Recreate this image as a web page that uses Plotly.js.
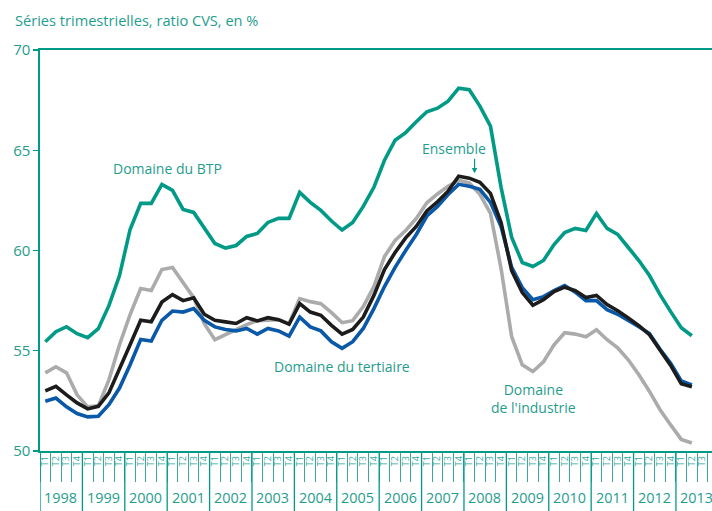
<!DOCTYPE html>
<html>
<head>
<meta charset="utf-8">
<script src="https://cdn.plot.ly/plotly-3.0.1.min.js"></script>
<style>html,body{margin:0;padding:0;background:#fff;}#chart{width:712px;height:511px;}</style>
</head>
<body>
<div id="chart"></div>
<script>
const years = [1998,1999,2000,2001,2002,2003,2004,2005,2006,2007,2008,2009,2010,2011,2012,2013];
const quarterLabels = ['T1','T2','T3','T4'];

const btp = [55.45,55.95,56.2,55.85,55.65,56.1,57.25,58.75,61.05,62.35,
  62.35,63.3,63.0,62.05,61.9,61.15,60.35,60.12,60.25,60.7,
  60.85,61.4,61.6,61.6,62.9,62.4,62.0,61.47,61.02,61.4,
  62.2,63.15,64.5,65.5,65.88,66.42,66.92,67.1,67.45,68.1,
  68.02,67.2,66.2,63.15,60.65,59.4,59.2,59.5,60.3,60.9,
  61.1,61.0,61.85,61.1,60.8,60.15,59.5,58.75,57.8,56.95,
  56.15,55.75];
const industrie = [53.9,54.2,53.9,52.8,52.2,52.25,53.55,55.3,56.8,58.1,
  58.0,59.05,59.15,58.4,57.65,56.35,55.55,55.8,56.05,56.3,
  56.5,56.52,56.55,56.36,57.6,57.45,57.35,56.9,56.4,56.5,
  57.2,58.2,59.7,60.5,61.0,61.6,62.38,62.82,63.2,63.5,
  63.37,62.8,61.85,59.1,55.7,54.3,53.96,54.45,55.3,55.9,
  55.83,55.7,56.05,55.55,55.15,54.55,53.8,52.97,52.06,51.3,
  50.58,50.4];
const ensemble = [53.0,53.22,52.8,52.4,52.1,52.23,52.9,54.05,55.3,56.52,
  56.45,57.43,57.8,57.5,57.64,56.82,56.52,56.44,56.36,56.65,
  56.49,56.65,56.55,56.32,57.35,56.93,56.77,56.27,55.83,56.06,
  56.68,57.76,59.05,59.9,60.63,61.2,61.97,62.43,62.96,63.7,
  63.61,63.4,62.85,61.4,59.0,57.9,57.27,57.55,57.95,58.17,
  58.0,57.65,57.76,57.3,57.0,56.63,56.25,55.8,55.05,54.27,
  53.35,53.2];
const tertiaire = [52.48,52.64,52.2,51.87,51.7,51.73,52.31,53.14,54.3,55.56,
  55.48,56.52,56.98,56.93,57.1,56.52,56.19,56.06,55.99,56.11,
  55.83,56.11,55.99,55.73,56.68,56.19,55.99,55.45,55.12,55.45,
  56.11,57.1,58.2,59.16,60.0,60.8,61.72,62.2,62.79,63.3,
  63.2,63.05,62.4,61.2,59.16,58.15,57.55,57.7,58.0,58.25,
  57.92,57.5,57.5,57.05,56.82,56.52,56.2,55.86,55.07,54.38,
  53.5,53.3];

const TEAL = '#009a87';
const TEXT = '#1f9d8d';
const FONT = 'Open Sans, Noto Sans, sans-serif';

const idx = btp.map((_, i) => i);
const nTicks = years.length * 4 - 1; // up to 2013 T3
const tickvals = [], ticktext = [];
for (let i = 0; i < nTicks; i++) { tickvals.push(i); ticktext.push(quarterLabels[i % 4]); }

function tr(y, color) {
  return {x: idx, y: y, type: 'scatter', mode: 'lines',
    line: {color: color, width: 3.6, shape: 'linear'}, hoverinfo: 'skip', showlegend: false};
}
const data = [tr(industrie, '#ababab'), tr(btp, TEAL), tr(tertiaire, '#0a58a8'), tr(ensemble, '#1c1c1c')];

const shapes = [];
const annotations = [];
years.forEach((yr, k) => {
  shapes.push({type: 'line', xref: 'x', yref: 'paper', x0: 4*k - 0.5, x1: 4*k - 0.5,
    y0: 0, y1: -60/401, line: {color: TEAL, width: 1.3}});
  annotations.push({xref: 'x', yref: 'paper', x: 4*k - 0.5 + 0.22, y: -0.115, text: String(yr),
    showarrow: false, xanchor: 'left', yanchor: 'middle', font: {family: FONT, size: 14.4, color: TEXT}});
});

const lblFont = {family: FONT, size: 14, color: TEXT};
annotations.push({x: 11.5, y: 64.1, text: 'Domaine du BTP', showarrow: false, font: lblFont});
annotations.push({x: 38.6, y: 65.1, text: 'Ensemble', showarrow: false, font: lblFont});
annotations.push({x: 40.5, y: 63.85, text: '', showarrow: true, ax: 0, ay: -16,
  arrowhead: 2, arrowsize: 0.9, arrowwidth: 1.2, arrowcolor: TEAL});
annotations.push({x: 28.0, y: 54.2, text: 'Domaine du tertiaire', showarrow: false, font: lblFont});
annotations.push({x: 46.1, y: 52.6, text: 'Domaine<br>de l\'industrie', showarrow: false, font: lblFont, align: 'center'});
annotations.push({xref: 'paper', yref: 'paper', x: -27/672, y: 1 + 30/401, xanchor: 'left', yanchor: 'middle',
  text: 'Séries trimestrielles, ratio CVS, en %', showarrow: false, font: {family: FONT, size: 14.6, color: TEXT}});

const layout = {
  width: 712, height: 511,
  margin: {l: 40, r: 0, t: 50, b: 60},
  paper_bgcolor: '#fff', plot_bgcolor: '#fff',
  showlegend: false,
  xaxis: {
    range: [-0.5, 62.9], showgrid: false, zeroline: false,
    showline: true, linecolor: TEAL, linewidth: 1.6, mirror: true,
    tickvals: tickvals, ticktext: ticktext, ticks: '', tickangle: -90,
    tickfont: {family: FONT, size: 9, color: '#3aa999'},
    minor: {tick0: -0.5, dtick: 1, ticks: 'outside', ticklen: 29, tickcolor: '#3aa999', tickwidth: 1, showgrid: false}
  },
  yaxis: {
    range: [50, 70], showgrid: false, zeroline: false,
    showline: true, linecolor: TEAL, linewidth: 1.6,
    tickvals: [50, 55, 60, 65, 70], ticks: 'outside', ticklen: 5, tickcolor: TEAL, tickwidth: 1.3,
    tickfont: {family: FONT, size: 15, color: TEXT}
  },
  shapes: shapes,
  annotations: annotations
};

Plotly.newPlot('chart', data, layout, {displayModeBar: false, staticPlot: true});
</script>
</body>
</html>
